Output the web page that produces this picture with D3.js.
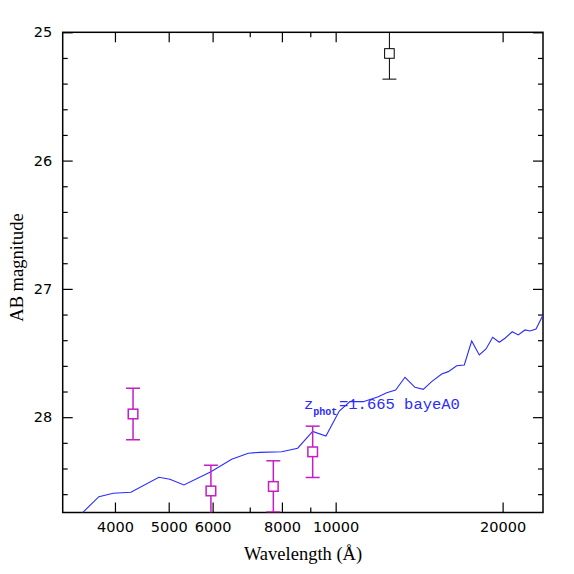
<!DOCTYPE html>
<html>
<head>
<meta charset="utf-8">
<script src="https://cdn.jsdelivr.net/npm/d3@7"></script>
<style>
  body { margin: 0; background: #fff; }
  text { fill: #000; }
</style>
</head>
<body>
<script>
// Model SED (wavelength in Angstrom, AB magnitude)
const modelWave = [3319, 3742, 3972, 4274, 4800, 5025, 5326, 5958, 6494, 6958, 7304, 7992,
  8541, 9089, 9605, 10151, 10612, 11214, 11934, 12359, 12828, 13335, 13900, 14388, 14898,
  15529, 15960, 16528, 17058, 17589, 18153, 18666, 19193, 19724, 20197, 20817, 21343,
  21946, 22406, 22975, 23650];
const modelMag = [28.84, 28.62, 28.593, 28.585, 28.468, 28.484, 28.528, 28.425, 28.328,
  28.281, 28.274, 28.269, 28.242, 28.111, 28.147, 27.952, 27.879, 27.879, 27.84, 27.809,
  27.788, 27.689, 27.767, 27.783, 27.723, 27.663, 27.645, 27.599, 27.593, 27.406, 27.515,
  27.468, 27.377, 27.416, 27.385, 27.334, 27.359, 27.32, 27.328, 27.313, 27.203];

// Photometry
const photWave = [4312, 5958, 7720, 9090, 12500];
const photMag = [27.975, 28.575, 28.54, 28.27, 25.165];
const photErr = [0.2, 0.2, 0.2, 0.2, 0.2];
const photKind = ['optical', 'optical', 'optical', 'optical', 'nir'];

// Axis ticks
const xTicks = [4000, 5000, 6000, 7000, 8000, 9000, 10000, 20000];
const xLabels = [4000, 5000, 6000, 8000, 10000, 20000];
const yTicks = [25, 25.2, 25.4, 25.6, 25.8, 26, 26.2, 26.4, 26.6, 26.8, 27, 27.2, 27.4,
  27.6, 27.8, 28, 28.2, 28.4, 28.6];
const yLabels = [25, 26, 27, 28];

const zLabel = 'z';
const zSub = 'phot';
const zRest = '=1.665 bayeA0';

const margin = { top: 32.3, left: 62.7 };
const width = 480.3;
const height = 480.2;

const svg = d3.select('body').append('svg')
  .attr('width', 574)
  .attr('height', 574);

const g = svg.append('g')
  .attr('transform', `translate(${margin.left},${margin.top})`);

const x = d3.scaleLog().domain([3220, 23650]).range([0, width]);
const y = d3.scaleLinear().domain([25, 28.743]).range([0, height]);

svg.append('defs').append('clipPath').attr('id', 'plot')
  .append('rect').attr('width', width).attr('height', height);

const tickFont = '14.5px "DejaVu Sans", sans-serif';
const titleFont = '18.5px "Liberation Serif", serif';
const isMajorX = d => xLabels.includes(d);
const isMajorY = d => yLabels.includes(d);

// Bottom axis
const axBottom = g.append('g')
  .attr('transform', `translate(0,${height})`)
  .call(d3.axisBottom(x).tickValues(xTicks)
    .tickFormat(d => isMajorX(d) ? d : '')
    .tickSize(-10).tickPadding(9.5));
axBottom.selectAll('.tick line').attr('y2', d => isMajorX(d) ? -10 : -5);

// Top axis
const axTop = g.append('g')
  .call(d3.axisTop(x).tickValues(xTicks).tickFormat('').tickSize(-10));
axTop.selectAll('.tick line').attr('y2', d => isMajorX(d) ? 10 : 5);

// Left axis
const axLeft = g.append('g')
  .call(d3.axisLeft(y).tickValues(yTicks)
    .tickFormat(d => isMajorY(d) ? d : '')
    .tickSize(-10).tickPadding(10.5));
axLeft.selectAll('.tick line').attr('x2', d => isMajorY(d) ? 10 : 5);

// Right axis
const axRight = g.append('g')
  .attr('transform', `translate(${width},0)`)
  .call(d3.axisRight(y).tickValues(yTicks).tickFormat('').tickSize(-10));
axRight.selectAll('.tick line').attr('x2', d => isMajorY(d) ? -10 : -5);

g.selectAll('.domain').remove();
g.selectAll('.tick line').attr('stroke', '#000').attr('stroke-width', 1.2);
g.selectAll('.tick text')
  .style('font', tickFont)
  .attr('fill', '#000');

// Frame
g.append('rect')
  .attr('width', width)
  .attr('height', height)
  .attr('fill', 'none')
  .attr('stroke', '#000')
  .attr('stroke-width', 1.5);

const plot = g.append('g').attr('clip-path', 'url(#plot)');

// Model line
const line = d3.line()
  .x((d, i) => x(modelWave[i]))
  .y(d => y(d));

plot.append('path')
  .datum(modelMag)
  .attr('d', line)
  .attr('fill', 'none')
  .attr('stroke', '#2b2bff')
  .attr('stroke-width', 1.1);

// Photometric points with error bars
const colour = k => k === 'nir' ? '#000' : '#c41ec4';
const capHalf = 7;
const boxHalf = 4.8;

const pts = plot.selectAll('.pt')
  .data(photWave.map((w, i) => ({ w, m: photMag[i], e: photErr[i], k: photKind[i] })))
  .enter().append('g')
  .attr('class', 'pt')
  .attr('stroke', d => colour(d.k))
  .attr('stroke-width', d => d.k === 'nir' ? 1 : 1.5)
  .attr('fill', 'none');

pts.append('line')
  .attr('x1', d => x(d.w)).attr('x2', d => x(d.w))
  .attr('y1', d => y(d.m - d.e)).attr('y2', d => y(d.m + d.e));

pts.append('line')
  .attr('x1', d => x(d.w) - capHalf).attr('x2', d => x(d.w) + capHalf)
  .attr('y1', d => y(d.m - d.e)).attr('y2', d => y(d.m - d.e));

pts.append('line')
  .attr('x1', d => x(d.w) - capHalf).attr('x2', d => x(d.w) + capHalf)
  .attr('y1', d => y(d.m + d.e)).attr('y2', d => y(d.m + d.e));

pts.append('rect')
  .attr('x', d => x(d.w) - boxHalf)
  .attr('y', d => y(d.m) - boxHalf)
  .attr('width', boxHalf * 2)
  .attr('height', boxHalf * 2)
  .attr('fill', '#fff');

// Redshift annotation
const ann = g.append('text')
  .attr('x', 304 - margin.left)
  .attr('y', 409 - margin.top)
  .style('font', '15.5px "Liberation Mono", monospace')
  .style('fill', '#2b2bff');
ann.append('tspan').text(zLabel);
ann.append('tspan').attr('dy', 6).style('font-size', '10px').style('font-weight', 'bold').text(zSub);
ann.append('tspan').attr('x', 339 - margin.left).attr('dy', -6).text(zRest);

// Axis titles
svg.append('text')
  .attr('x', 303)
  .attr('y', 560)
  .attr('text-anchor', 'middle')
  .style('font', titleFont)
  .text('Wavelength (Å)');

svg.append('text')
  .attr('transform', 'translate(22.7,267.5) rotate(-90)')
  .attr('text-anchor', 'middle')
  .style('font', titleFont)
  .text('AB magnitude');
</script>
</body>
</html>
